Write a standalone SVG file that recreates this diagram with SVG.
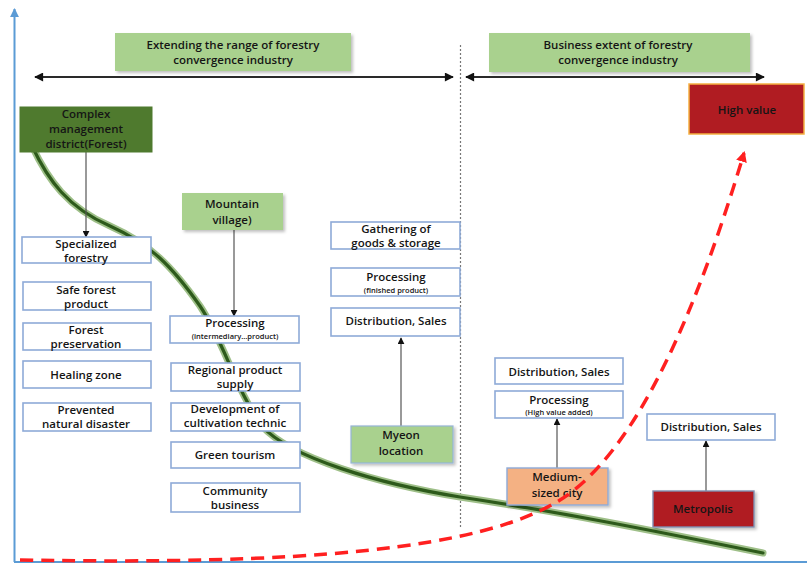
<svg xmlns="http://www.w3.org/2000/svg" width="807" height="569" viewBox="0 0 807 569">
<defs>
<style>
text{font-family:"Open Sans","Noto Sans","Liberation Sans",sans-serif;font-size:11.5px;font-weight:600;fill:#151515;text-anchor:middle;}
.sm{font-size:7.5px;}
.box{fill:#ffffff;stroke:#8eaad8;stroke-width:1.6;}
.lg{fill:#a9d18e;stroke:#95b4d6;stroke-width:1.2;}
.hd{fill:#a9d18e;}
.dg{fill:#4f7a2e;stroke:#4f7a2e;}
.or{fill:#f4b183;stroke:#8eaad8;stroke-width:1.4;}
.rd{fill:#b01c22;stroke:#7f8fb0;stroke-width:1.4;}
.conn{stroke:#555;stroke-width:1.2;fill:none;}
.dbl{stroke:#2a2a2a;stroke-width:2;fill:none;}
</style>
<filter id="sh" x="-10%" y="-10%" width="130%" height="140%">
<feDropShadow dx="2" dy="2" stdDeviation="1.5" flood-color="#000" flood-opacity="0.25"/>
</filter>
<marker id="ah" viewBox="0 0 10 10" refX="9" refY="5" markerWidth="7" markerHeight="7" orient="auto-start-reverse" markerUnits="userSpaceOnUse">
<path d="M0,0 L10,5 L0,10 z" fill="#111"/>
</marker>
<marker id="dh" viewBox="0 0 10 10" refX="9" refY="5" markerWidth="10" markerHeight="9" orient="auto-start-reverse" markerUnits="userSpaceOnUse">
<path d="M0,0 L10,5 L0,10 z" fill="#111"/>
</marker>
<marker id="bh" viewBox="0 0 10 10" refX="9" refY="5" markerWidth="9" markerHeight="9" orient="auto" markerUnits="userSpaceOnUse">
<path d="M0,0 L10,5 L0,10 z" fill="#5b9bd5"/>
</marker>
<marker id="rh" viewBox="0 0 10 10" refX="8" refY="5" markerWidth="11" markerHeight="11" orient="auto" markerUnits="userSpaceOnUse">
<path d="M0,0 L10,5 L0,10 z" fill="#ff2020"/>
</marker>
</defs>
<rect width="807" height="569" fill="#ffffff"/>

<g id="axes">
<line x1="14.5" y1="562" x2="14.5" y2="9" stroke="#5b9bd5" stroke-width="2" marker-end="url(#bh)"/>
<line x1="14" y1="562" x2="807" y2="562" stroke="#5b9bd5" stroke-width="2.2"/>
</g>

<g id="divider">
<line x1="460.5" y1="45" x2="460.5" y2="527" stroke="#777" stroke-width="1.2" stroke-dasharray="2 2"/>
</g>

<g id="green-curve">
<path d="M32,146 C 48,180 68,208 110,226 C 150,244 172,266 200,306 C 224,342 236,390 262,426 C 290,458 380,484 460,497 C 560,512 650,530 763,553" fill="none" stroke="#9ebf88" stroke-width="7" stroke-linecap="round"/>
<path d="M32,146 C 48,180 68,208 110,226 C 150,244 172,266 200,306 C 224,342 236,390 262,426 C 290,458 380,484 460,497 C 560,512 650,530 763,553" fill="none" stroke="#2d5a1b" stroke-width="3.2" stroke-linecap="round"/>
</g>

<g id="header-left">
<rect x="115" y="33" width="236" height="38" class="hd" filter="url(#sh)"/>
<text x="233" y="49">Extending  the  range  of  forestry</text>
<text x="233" y="64">convergence  industry</text>
</g>
<g id="header-right">
<rect x="489" y="33" width="261" height="39" class="hd" filter="url(#sh)"/>
<text x="618" y="49">Business  extent  of  forestry</text>
<text x="618" y="64">convergence  industry</text>
</g>

<g id="connectors">
<line x1="35" y1="77" x2="453" y2="77" class="dbl" marker-start="url(#dh)" marker-end="url(#dh)"/>
<line x1="466" y1="77" x2="764" y2="77" class="dbl" marker-start="url(#dh)" marker-end="url(#dh)"/>
<line x1="86" y1="152" x2="86" y2="237" class="conn" marker-end="url(#ah)"/>
<line x1="234" y1="230" x2="234" y2="316" class="conn" marker-end="url(#ah)"/>
<line x1="401" y1="426" x2="401" y2="338" class="conn" marker-end="url(#ah)"/>
<line x1="557" y1="468" x2="557" y2="419" class="conn" marker-end="url(#ah)"/>
<line x1="706" y1="491" x2="706" y2="441" class="conn" marker-end="url(#ah)"/>
</g>

<g id="high-value">
<rect x="689" y="84" width="115" height="50" fill="#b01c22" stroke="#f5b041" stroke-width="1.5"/>
<text x="747" y="114">High value</text>
</g>

<g id="complex-management">
<rect x="20" y="107" width="132" height="45" class="dg"/>
<text x="86" y="118">Complex</text>
<text x="86" y="133">management</text>
<text x="86" y="148">district(Forest)</text>
</g>

<g id="specialized-forestry"><rect x="22" y="237" width="129" height="26" class="box"/><text x="86" y="248">Specialized</text><text x="86" y="262">forestry</text></g>
<g id="safe-forest-product"><rect x="23" y="282" width="128" height="28" class="box"/><text x="86" y="294">Safe forest</text><text x="86" y="308">product</text></g>
<g id="forest-preservation"><rect x="23" y="323" width="128" height="27" class="box"/><text x="86" y="334">Forest</text><text x="86" y="348">preservation</text></g>
<g id="healing-zone"><rect x="23" y="361" width="128" height="27" class="box"/><text x="86" y="379">Healing zone</text></g>
<g id="prevented-natural-disaster"><rect x="23" y="403" width="128" height="28" class="box"/><text x="86" y="414">Prevented</text><text x="86" y="428">natural disaster</text></g>

<g id="mountain-village">
<rect x="182" y="193" width="101" height="37" fill="#a9d18e" filter="url(#sh)"/>
<text x="232" y="208">Mountain</text>
<text x="232" y="224">village)</text>
</g>

<g id="processing-intermediary"><rect x="170" y="316" width="129" height="27" class="box"/><text x="235" y="327">Processing</text><text x="235" y="339" class="sm">(intermediary…product)</text></g>
<g id="regional-product-supply"><rect x="171" y="363" width="129" height="28" class="box"/><text x="235" y="374">Regional product</text><text x="235" y="388">supply</text></g>
<g id="development-cultivation"><rect x="171" y="403" width="129" height="28" class="box"/><text x="235" y="413">Development of</text><text x="235" y="427">cultivation technic</text></g>
<g id="green-tourism"><rect x="171" y="442" width="129" height="26" class="box"/><text x="235" y="459">Green tourism</text></g>
<g id="community-business"><rect x="171" y="483" width="129" height="29" class="box"/><text x="235" y="495">Community</text><text x="235" y="509">business</text></g>

<g id="gathering-storage"><rect x="331" y="222" width="129" height="27" class="box"/><text x="396" y="233">Gathering of</text><text x="396" y="247">goods &amp; storage</text></g>
<g id="processing-finished"><rect x="331" y="268" width="129" height="28" class="box"/><text x="396" y="281">Processing</text><text x="396" y="293" class="sm">(finished  product)</text></g>
<g id="distribution-myeon"><rect x="331" y="308" width="129" height="28" class="box"/><text x="396" y="325">Distribution, Sales</text></g>
<g id="myeon-location">
<rect x="351" y="426" width="102" height="37" class="lg" filter="url(#sh)"/>
<text x="401" y="439">Myeon</text>
<text x="401" y="455">location</text>
</g>

<g id="distribution-medium"><rect x="495" y="358" width="128" height="26" class="box"/><text x="559" y="376">Distribution, Sales</text></g>
<g id="processing-high-value"><rect x="495" y="391" width="128" height="27" class="box"/><text x="559" y="404">Processing</text><text x="559" y="415" class="sm">(High  value  added)</text></g>
<g id="medium-sized-city">
<rect x="507" y="468" width="101" height="37" class="or" filter="url(#sh)"/>
<text x="557" y="481">Medium-</text>
<text x="557" y="497">sized city</text>
</g>

<g id="distribution-metropolis"><rect x="647" y="414" width="128" height="26" class="box"/><text x="711" y="431">Distribution, Sales</text></g>
<g id="metropolis">
<rect x="653" y="491" width="101" height="36" class="rd" filter="url(#sh)"/>
<text x="703" y="513">Metropolis</text>
</g>

<g id="red-curve">
<path d="M20,560 C 300,565 480,550 560,500 C 640,450 700,300 744,153" fill="none" stroke="#ff2020" stroke-width="3.5" stroke-dasharray="13 8" marker-end="url(#rh)"/>
</g>
</svg>
